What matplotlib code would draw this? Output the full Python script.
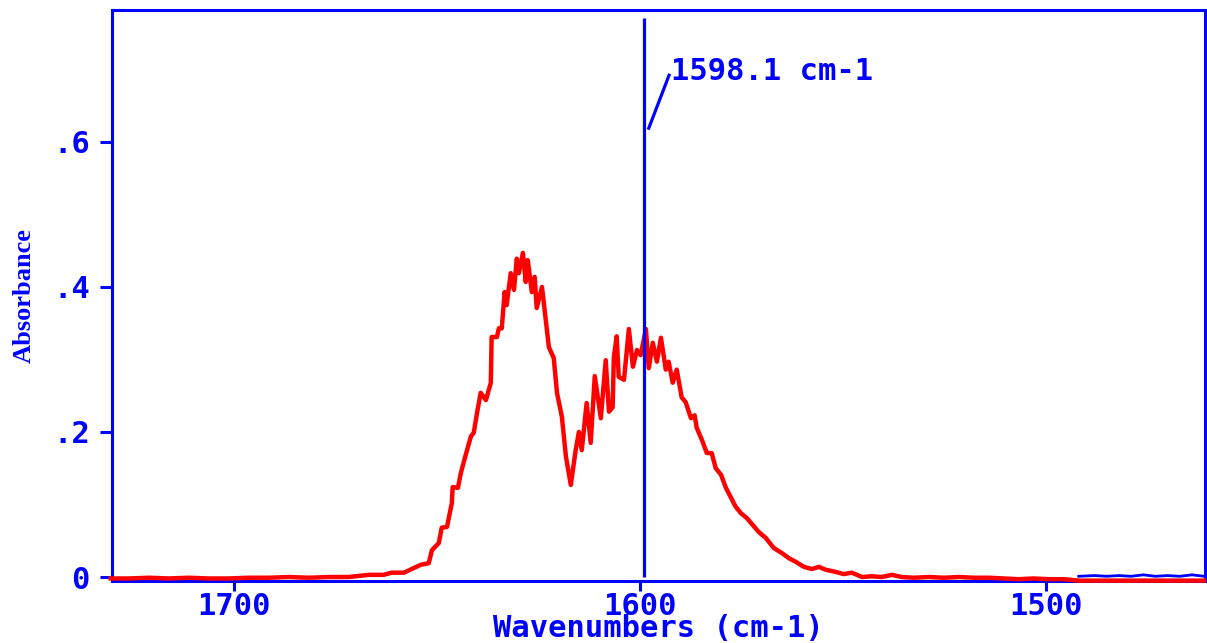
import matplotlib
matplotlib.use("Agg")
import matplotlib.pyplot as plt

# Spectrum (red trace)
wavenumber = [
    1730.3, 1725.9, 1720.9, 1716.0, 1711.1, 1706.2, 1701.2, 1696.3, 1691.4, 1686.5,
    1681.5, 1676.6, 1671.7, 1666.7, 1663.1, 1661.1, 1658.1, 1656.2, 1653.9, 1652.0,
    1651.2, 1649.5, 1648.8, 1647.5, 1646.3, 1646.1, 1644.8, 1644.1, 1643.1, 1641.6,
    1640.9, 1640.1, 1639.2, 1637.9, 1636.7, 1636.5, 1635.2, 1634.7, 1634.0, 1633.3,
    1632.8, 1631.8, 1631.0, 1630.3, 1629.8, 1628.8, 1628.1, 1627.6, 1626.6, 1625.9,
    1625.4, 1624.1, 1622.4, 1621.2, 1620.4, 1619.2, 1618.2, 1617.0, 1615.8, 1615.0,
    1614.3, 1613.1, 1612.1, 1611.1, 1609.6, 1608.4, 1607.6, 1606.7, 1606.4, 1605.7,
    1605.2, 1603.9, 1602.7, 1601.7, 1600.7, 1599.8, 1598.5, 1597.8, 1596.8, 1595.8,
    1594.8, 1593.6, 1592.9, 1591.9, 1590.9, 1589.7, 1588.7, 1587.4, 1586.5, 1586.0,
    1584.7, 1583.5, 1582.3, 1581.3, 1580.0, 1578.8, 1577.6, 1576.4, 1575.1, 1573.6,
    1570.7, 1569.0, 1567.0, 1565.0, 1563.3, 1561.6, 1559.6, 1557.6, 1555.9, 1554.2,
    1551.7, 1549.8, 1547.8, 1545.3, 1542.9, 1540.4, 1537.9, 1535.5, 1532.5, 1528.8,
    1525.1, 1521.4, 1517.7, 1514.0, 1510.3, 1506.7, 1503.0, 1499.3, 1495.6, 1491.9,
    1486.9, 1479.6, 1472.2, 1464.8, 1461.1,
]
absorbance = [
    -0.002, -0.002, -0.001, -0.002, -0.001, -0.002, -0.002, -0.001, -0.001, 0.000,
    -0.001, 0.000, 0.000, 0.003, 0.003, 0.006, 0.006, 0.011, 0.017, 0.019,
    0.037, 0.047, 0.068, 0.069, 0.102, 0.124, 0.123, 0.143, 0.164, 0.194,
    0.199, 0.226, 0.254, 0.244, 0.268, 0.331, 0.331, 0.343, 0.343, 0.393,
    0.375, 0.419, 0.396, 0.439, 0.419, 0.447, 0.407, 0.437, 0.393, 0.414,
    0.371, 0.400, 0.317, 0.302, 0.254, 0.221, 0.166, 0.127, 0.175, 0.200,
    0.175, 0.240, 0.185, 0.277, 0.219, 0.299, 0.228, 0.234, 0.303, 0.332,
    0.276, 0.272, 0.342, 0.290, 0.313, 0.306, 0.342, 0.288, 0.323, 0.297,
    0.330, 0.286, 0.297, 0.268, 0.286, 0.248, 0.241, 0.219, 0.223, 0.206,
    0.189, 0.171, 0.171, 0.150, 0.141, 0.123, 0.110, 0.097, 0.088, 0.081,
    0.062, 0.054, 0.040, 0.033, 0.026, 0.021, 0.014, 0.011, 0.014, 0.010,
    0.007, 0.004, 0.006, 0.000, 0.001, 0.000, 0.003, 0.000, -0.001, 0.000,
    -0.001, 0.000, -0.001, -0.001, -0.002, -0.003, -0.002, -0.003, -0.003, -0.005,
    -0.005, -0.005, -0.005, -0.005, -0.005,
]

# Short blue trace near zero at the right end
ref_wavenumber = [1491.9, 1488.0, 1485.0, 1482.0, 1479.0, 1476.0, 1473.0, 1470.0, 1467.0, 1464.0, 1461.0]
ref_absorbance = [0.001, 0.002, 0.001, 0.002, 0.001, 0.003, 0.001, 0.002, 0.001, 0.003, 0.001]

marker_position = 1599.0
marker_top = 0.771
marker_label = "1598.1 cm-1"

x_ticks = [1700, 1600, 1500]
x_tick_labels = ["1700", "1600", "1500"]
y_ticks = [0.0, 0.2, 0.4, 0.6]
y_tick_labels = ["0", ".2", ".4", ".6"]
x_label = "Wavenumbers (cm-1)"
y_label = "Absorbance"

BLUE = "#0000ff"
RED = "#ff0000"
MONO = ["DejaVu Sans Mono"]
FS = 22

fig = plt.figure(figsize=(12.07, 6.43), dpi=100)
ax = fig.add_axes([112 / 1207, 62 / 643, 1093 / 1207, 571 / 643])

ax.plot(wavenumber, absorbance, color=RED, lw=3.2, solid_joinstyle="round", zorder=3, clip_on=False)
ax.plot(ref_wavenumber, ref_absorbance, color=BLUE, lw=2.0, zorder=4)
ax.vlines(marker_position, 0, marker_top, color=BLUE, lw=2.3, zorder=5)
ax.plot([1597.8, 1592.8], [0.619, 0.692], color=BLUE, lw=2.3, zorder=5)
ax.text(1592.2, 0.697, marker_label, color=BLUE, fontsize=FS, fontweight="bold",
        family=MONO, ha="left", va="center")

ax.set_xlim(1730.0, 1460.8)
ax.set_ylim(-0.0055, 0.782)

ax.set_xticks(x_ticks)
ax.set_xticklabels(x_tick_labels)
ax.set_yticks(y_ticks)
ax.set_yticklabels(y_tick_labels)

for lab in ax.get_xticklabels() + ax.get_yticklabels():
    lab.set_family(MONO)
    lab.set_fontweight("bold")
    lab.set_fontsize(FS)
    lab.set_color(BLUE)

ax.tick_params(axis="x", direction="out", length=7, width=2.2, color=BLUE, pad=1)
ax.tick_params(axis="y", direction="out", length=9, width=2.2, color=BLUE, pad=7)

for sp in ax.spines.values():
    sp.set_color(BLUE)
    sp.set_linewidth(2.2)

ax.set_xlabel(x_label, color=BLUE, fontsize=FS, fontweight="bold", family=MONO)
ax.xaxis.label.set_va("baseline")
ax.xaxis.set_label_coords(0.5, -0.098)

ax.set_ylabel(y_label, color=BLUE, fontsize=19, fontweight="bold", family=["Liberation Serif"])
ax.yaxis.label.set_va("center")
ax.yaxis.set_label_coords(-0.0805, 0.5)

fig.savefig("out.png", dpi=100)
